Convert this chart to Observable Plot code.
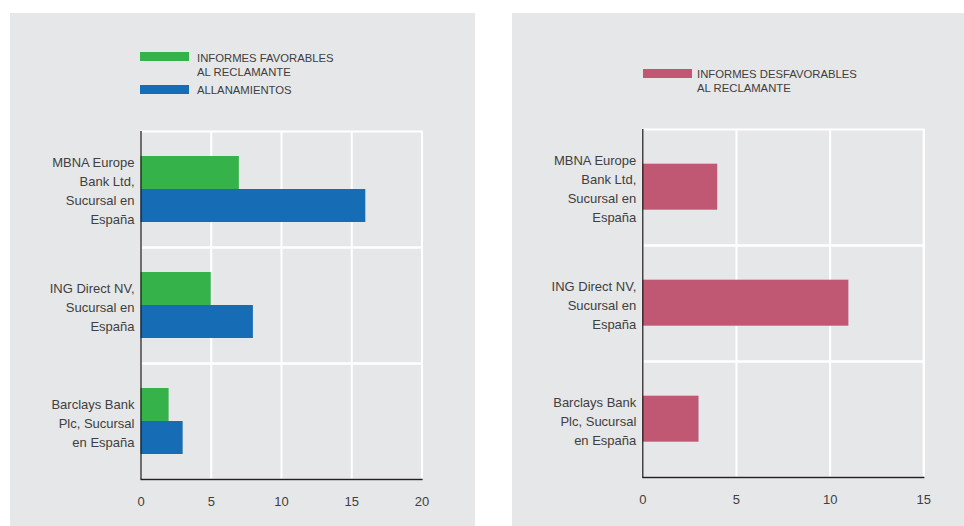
<!DOCTYPE html>
<html>
<head>
<meta charset="utf-8">
<script src="https://cdn.jsdelivr.net/npm/d3@7"></script>
<script src="https://cdn.jsdelivr.net/npm/@observablehq/plot@0.6"></script>
<style>
  html, body { margin: 0; padding: 0; background: #ffffff; }
  body { width: 964px; height: 526px; position: relative; overflow: hidden;
         font-family: "Liberation Sans", Arial, sans-serif; color: #404040; }
  .panel { position: absolute; background: #e6e7e9; }
  .chart { position: absolute; }
  .legend { position: absolute; font-size: 11.3px; line-height: 14px; color: #404040; }
  .swatch { position: absolute; width: 49px; height: 9px; }
  .ltext { position: absolute; white-space: nowrap; }
</style>
</head>
<body>
<div class="panel" style="left:10px; top:13px; width:465px; height:513px;"></div>
<div class="panel" style="left:512px; top:13px; width:452px; height:513px;"></div>

<div id="legendLeft" class="legend" style="left:0; top:0;"></div>
<div id="legendRight" class="legend" style="left:0; top:0;"></div>

<div id="chartLeft" class="chart" style="left:10px; top:120px;"></div>
<div id="chartRight" class="chart" style="left:512px; top:120px;"></div>

<script>
// ---- data ----
const banks = [
  "MBNA Europe\nBank Ltd,\nSucursal en\nEspaña",
  "ING Direct NV,\nSucursal en\nEspaña",
  "Barclays Bank\nPlc, Sucursal\nen España"
];
const leftSeries = ["INFORMES FAVORABLES\nAL RECLAMANTE", "ALLANAMIENTOS"];
const favorables = [7, 5, 2];
const allanamientos = [16, 8, 3];
const rightSeries = ["INFORMES DESFAVORABLES\nAL RECLAMANTE"];
const desfavorables = [4, 11, 3];
const leftTicks = [0, 5, 10, 15, 20];
const rightTicks = [0, 5, 10, 15];
const leftColors = ["#36b24a", "#166db5"];
const rightColors = ["#c05874"];

// ---- tables ----
const leftRows = [];
banks.forEach((b, i) => {
  leftRows.push({bank: b, series: leftSeries[0], value: favorables[i]});
  leftRows.push({bank: b, series: leftSeries[1], value: allanamientos[i]});
});
const rightRows = banks.map((b, i) => ({bank: b, series: rightSeries[0], value: desfavorables[i]}));

function chart(rows, series, colors, ticks, dims) {
  return Plot.plot({
    width: dims.width, height: 406,
    marginLeft: dims.ml, marginRight: dims.mr, marginTop: dims.mt, marginBottom: dims.mb,
    style: {background: "transparent", fontFamily: "'Liberation Sans', Arial, sans-serif", fontSize: "13px", color: "#404040", overflow: "visible"},
    x: {domain: [d3.min(ticks), d3.max(ticks)], axis: null},
    y: {domain: series, axis: null, paddingInner: 0, paddingOuter: 0.75},
    fy: {domain: banks, padding: 0, axis: null, label: null},
    color: {domain: series, range: colors},
    marks: [
      Plot.frame({stroke: "white", strokeWidth: 2}),
      Plot.gridX({ticks: ticks.slice(1), stroke: "white", strokeOpacity: 1, strokeWidth: 2}),
      Plot.barX(rows, {x: "value", y: "series", fy: "bank", fill: "series"}),
      Plot.ruleX([0], {stroke: "#231f20", strokeWidth: 1.3}),
      Plot.frame({anchor: "bottom", facetAnchor: "bottom", stroke: "#231f20", strokeWidth: 1.3}),
      Plot.axisX({ticks: ticks, tickSize: 0, tickPadding: 17.5, fontSize: 13, label: null, fill: "#404040"}),
      Plot.axisFy({anchor: "left", tickSize: 0, tickPadding: 6.5, fontSize: 13, lineHeight: 19 / 13, label: null, fill: "#404040"})
    ]
  });
}

document.getElementById("chartLeft").append(
  chart(leftRows, leftSeries, leftColors, leftTicks, {width: 465, ml: 130.5, mr: 53.5, mt: 10, mb: 47})
);
document.getElementById("chartRight").append(
  chart(rightRows, rightSeries, rightColors, rightTicks, {width: 452, ml: 130.3, mr: 40.7, mt: 9.3, mb: 48.3})
);

// ---- legends ----
function legend(el, series, colors, items) {
  series.forEach((s, i) => {
    const it = items[i];
    const sw = document.createElement("div");
    sw.className = "swatch";
    sw.style.left = it.sx + "px"; sw.style.top = it.sy + "px"; sw.style.background = colors[i];
    el.appendChild(sw);
    const tx = document.createElement("div");
    tx.className = "ltext";
    tx.style.left = it.tx + "px"; tx.style.top = it.ty + "px";
    tx.innerHTML = s.split("\n").join("<br>");
    el.appendChild(tx);
  });
}
legend(document.getElementById("legendLeft"), leftSeries, leftColors, [
  {sx: 140, sy: 52.3, tx: 197, ty: 50.5},
  {sx: 140, sy: 85.3, tx: 197, ty: 83.3}
]);
legend(document.getElementById("legendRight"), rightSeries, rightColors, [
  {sx: 643, sy: 69.3, tx: 697, ty: 67.3}
]);
</script>
</body>
</html>
